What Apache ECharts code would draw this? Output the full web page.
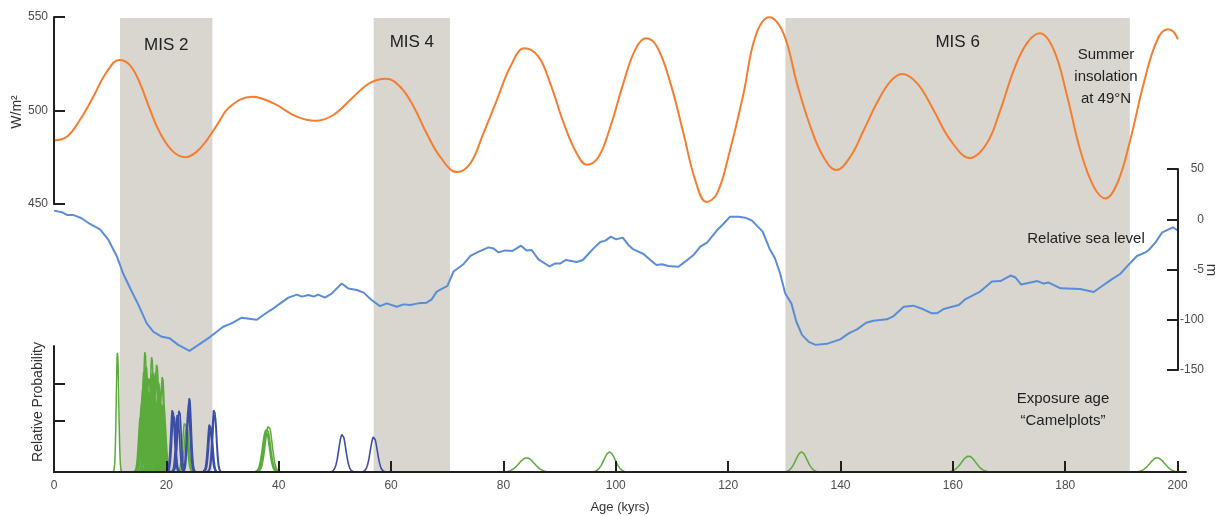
<!DOCTYPE html>
<html>
<head>
<meta charset="utf-8">
<script src="https://cdn.jsdelivr.net/npm/echarts@6/dist/echarts.min.js"></script>
<style>
html,body{margin:0;padding:0;background:#fff;}
#chart{width:1222px;height:516px;}
</style>
</head>
<body>
<div id="chart"></div>
<script>
// ---------- DATA ----------
const xTickValues = [0, 20, 40, 60, 80, 100, 120, 140, 160, 180, 200];
const insolTickValues = [450, 500, 550];
const seaTickValues = [50, 0, -50, -100, -150];
const seaTickLabels = ['50', '0', '-5', '-100', '-150'];
const probTickValues = [0.405, 0.70];

const misNames = ['MIS 2', 'MIS 4', 'MIS 6'];
const misStart = [11.75, 56.9, 130.2];
const misEnd = [28.2, 70.5, 191.5];

// Summer insolation at 49°N (W/m²)
const insolAge = [0, 2.3, 4.6, 7.0, 9.4, 11.6, 13.5, 15.3, 17.1, 18.9, 21.2, 23.4, 25.4, 27.2, 29.0, 31.3, 35.3, 39.0, 43.2, 46.5, 49.7, 53.3, 56.3, 59.1, 61.6, 64.0, 66.3, 68.7, 71.7, 74.1, 76.4, 78.8, 81.2, 83.7, 86.2, 88.3, 90.7, 93.0, 94.8, 96.9, 99.0, 101.3, 103.4, 105.3, 107.3, 109.7, 112.0, 114.1, 116.1, 118.0, 120.3, 122.7, 124.8, 127.3, 129.8, 132.2, 134.6, 136.9, 139.2, 141.7, 144.1, 146.4, 148.8, 150.9, 153.6, 156.5, 159.5, 163.0, 166.0, 168.4, 170.8, 173.1, 175.4, 177.9, 180.3, 182.6, 185.0, 187.1, 189.2, 191.5, 193.9, 196.3, 198.2, 199.2, 200];
const insolW = [484, 486, 494.9, 507.4, 520.7, 527, 524.3, 514.5, 500.3, 487.8, 478, 475, 478, 484.2, 492.2, 502, 507.4, 503.9, 496.7, 494.5, 497.6, 507.4, 514.9, 517, 512.7, 502, 487.8, 475.3, 467.1, 471.8, 487.8, 505.6, 523.4, 533.3, 528.8, 514.5, 493.2, 477.1, 471, 475.3, 491.3, 514.5, 532.4, 538.6, 534.1, 514.5, 487.8, 462.8, 451.1, 455.7, 478.9, 509.2, 539.5, 549.8, 541.3, 514.5, 491.3, 475.3, 468.2, 475.3, 489.6, 503.9, 515.4, 519.5, 514.5, 500.3, 484.2, 474.6, 482.5, 500.3, 521.7, 535.9, 541.3, 532.4, 507.4, 478.9, 459.3, 453, 461.1, 484.2, 514.5, 537.7, 543.4, 542.1, 538];

// Relative sea level (m)
const seaAge = [0, 1.4, 2.3, 3.4, 4.9, 6.4, 8.2, 9.7, 11.2, 12.3, 13.7, 15.0, 16.5, 17.7, 19.2, 20.6, 22.1, 24.1, 25.7, 27.8, 30.1, 31.6, 33.4, 36.1, 37.3, 38.7, 40.2, 41.7, 43.2, 44.1, 45.3, 46.2, 47.0, 48.2, 49.4, 51.2, 52.4, 53.9, 55.1, 56.5, 58.0, 59.2, 61.0, 62.2, 63.4, 64.8, 66.3, 67.2, 68.1, 70.0, 71.1, 72.9, 74.1, 75.5, 77.3, 78.2, 79.1, 80.3, 81.6, 83.1, 84.1, 85.0, 86.2, 88.2, 89.2, 90.1, 91.1, 93.0, 94.1, 96.0, 97.2, 98.1, 99.1, 100.0, 101.2, 102.2, 103.1, 104.9, 106.1, 107.2, 108.2, 109.3, 111.1, 112.3, 113.8, 115.0, 116.2, 118.0, 119.1, 120.3, 121.8, 123.0, 124.2, 126.1, 127.3, 128.3, 129.2, 130.1, 131.2, 132.1, 133.1, 134.3, 135.5, 137.5, 139.9, 141.4, 142.9, 144.5, 145.8, 148.2, 149.4, 151.2, 152.9, 154.7, 156.2, 157.1, 158.3, 161.0, 162.2, 164.8, 166.9, 168.4, 170.2, 171.1, 172.1, 175.0, 176.1, 177.0, 179.1, 182.6, 185.0, 186.7, 188.2, 189.7, 190.9, 192.7, 194.2, 194.8, 196.0, 197.2, 199.1, 200.0];
const seaLevel = [8.6, 7, 4.3, 4.3, 1, -4.7, -10, -20.6, -37, -54, -70.4, -85, -103.6, -112, -117, -118.5, -125, -131, -125, -117, -107, -103.6, -98, -100, -95, -90, -84, -78, -75, -77, -75.4, -77, -75, -78, -74, -64, -69, -70.4, -73, -80.4, -86.4, -83.7, -87, -84.7, -85.4, -83.7, -83, -79.7, -72, -66.4, -52, -44.5, -36.5, -32.5, -28, -29, -33, -31, -31.5, -26.3, -31, -30.6, -40, -47, -44, -44, -40.5, -42.5, -40.5, -29, -22.6, -21.3, -17.3, -20, -18.3, -25.6, -30, -34.6, -40.5, -45.5, -44.8, -46.5, -47.2, -42.2, -35.6, -27.3, -23.3, -10.7, -4.7, 2.6, 2.6, 1.6, -1.4, -12.3, -29, -39, -54, -73.7, -83.7, -102, -115, -122, -125, -124, -119.5, -113.5, -109.6, -103, -101, -99.6, -96.3, -87, -86, -89.6, -93.6, -93.6, -89.3, -85.4, -79.4, -72, -62, -61.5, -56, -58, -65, -61.5, -64, -63, -68.7, -69.4, -72.4, -65.7, -59.8, -54.5, -47.2, -36.6, -32.9, -30.6, -23, -13, -8, -11.4];

// Exposure ages ("camelplots"): age (kyr), 1-sigma (kyr), relative peak height
const greenAge = [11.3, 15.4, 15.6, 15.8, 16.0, 16.2, 16.4, 16.6, 16.9, 17.0, 17.2, 17.4, 17.6, 17.8, 18.1, 18.3, 18.6, 18.8, 19.0, 19.2, 19.3, 19.5, 19.6, 23.3, 23.6, 37.7, 37.9, 38.2, 84.1, 98.85, 133.0, 162.75, 196.3];
const greenSigma = [0.22, 0.35, 0.35, 0.35, 0.35, 0.3, 0.35, 0.35, 0.35, 0.35, 0.35, 0.3, 0.35, 0.35, 0.35, 0.35, 0.35, 0.35, 0.35, 0.35, 0.35, 0.35, 0.35, 0.4, 0.4, 0.6, 0.6, 0.6, 1.35, 1.0, 1.0, 1.25, 1.3];
const greenHeight = [0.955, 0.45, 0.55, 0.66, 0.80, 0.96, 0.85, 0.70, 0.75, 0.62, 0.68, 0.92, 0.80, 0.72, 0.80, 0.86, 0.72, 0.62, 0.55, 0.70, 0.76, 0.55, 0.45, 0.40, 0.36, 0.33, 0.35, 0.375, 0.113, 0.159, 0.159, 0.127, 0.113];
const blueAge = [21.1, 21.3, 22.0, 22.3, 23.9, 24.0, 24.1, 27.7, 27.9, 28.5, 28.6, 51.3, 56.9];
const blueSigma = [0.32, 0.32, 0.32, 0.32, 0.32, 0.32, 0.32, 0.35, 0.35, 0.35, 0.35, 0.62, 0.62];
const blueHeight = [0.51, 0.47, 0.47, 0.505, 0.50, 0.55, 0.59, 0.39, 0.37, 0.51, 0.47, 0.30, 0.28];

// ---------- BUILD ----------
function camelData(ages, sigmas, heights) {
  const out = [];
  for (let i = 0; i < ages.length; i++) {
    const mu = ages[i], s = sigmas[i], h = heights[i];
    const n = 50;
    for (let k = 0; k <= n; k++) {
      const x = mu - 3.5 * s + (7 * s) * k / n;
      const z = (x - mu) / s;
      out.push([x, h * Math.exp(-0.5 * z * z)]);
    }
    out.push(null);
  }
  return out;
}
const zipXY = (a, b) => a.map((v, i) => [v, b[i]]);

const AXIS_COLOR = '#231f20';
const LABEL_COLOR = '#4d4d4d';
const FONT = 'Liberation Sans, Arial, sans-serif';

const chart = echarts.init(document.getElementById('chart'), null, {renderer: 'canvas'});

const markAreaData = misNames.map((n, i) => [
  {name: n, xAxis: misStart[i], label: {distance: i === 0 ? 19 : 16}},
  {xAxis: misEnd[i]}
]);

const axisLineStyle = {show: true, onZero: false, lineStyle: {color: AXIS_COLOR, width: 2}};
const gridBase = {outerBoundsMode: 'none', containLabel: false};

const option = {
  animation: false,
  backgroundColor: '#ffffff',
  textStyle: {fontFamily: FONT},
  grid: [
    Object.assign({left: 54, top: 18, width: 1132, height: 454}, gridBase),   // background + age axis
    Object.assign({left: 54, top: 17, width: 1124, height: 187}, gridBase),   // insolation
    Object.assign({left: 54, top: 169, width: 1124, height: 201}, gridBase),  // sea level
    Object.assign({left: 54, top: 346, width: 1124, height: 126}, gridBase)   // probability
  ],
  xAxis: [
    {
      gridIndex: 0, type: 'value', min: 0, max: 201.5, z: 5,
      name: 'Age (kyrs)', nameLocation: 'middle', nameGap: 29,
      nameTextStyle: {fontSize: 13, color: '#333', fontFamily: FONT},
      axisLine: axisLineStyle,
      axisTick: {show: true, inside: true, length: 11, customValues: xTickValues.slice(1), lineStyle: {color: AXIS_COLOR, width: 2}},
      axisLabel: {show: true, customValues: xTickValues, fontSize: 12, color: LABEL_COLOR, margin: 8, fontFamily: FONT},
      splitLine: {show: false}
    },
    {gridIndex: 1, type: 'value', min: 0, max: 200, show: false},
    {gridIndex: 2, type: 'value', min: 0, max: 200, show: false},
    {gridIndex: 3, type: 'value', min: 0, max: 200, show: false}
  ],
  yAxis: [
    {gridIndex: 0, type: 'value', min: 0, max: 1, show: false},
    {
      gridIndex: 1, type: 'value', position: 'left', min: 450, max: 550, interval: 50, z: 5,
      axisLine: axisLineStyle,
      axisTick: {show: true, inside: true, length: 11, lineStyle: {color: AXIS_COLOR, width: 2}},
      axisLabel: {customValues: insolTickValues, fontSize: 12, color: LABEL_COLOR, margin: 6, fontFamily: FONT},
      splitLine: {show: false}
    },
    {
      gridIndex: 2, type: 'value', position: 'right', min: -150, max: 50, interval: 50, z: 5,
      axisLine: axisLineStyle,
      axisTick: {show: true, inside: true, length: 11, lineStyle: {color: AXIS_COLOR, width: 2}},
      axisLabel: {
        fontSize: 12, color: LABEL_COLOR, margin: 26, align: 'right', fontFamily: FONT,
        formatter: v => { const i = seaTickValues.indexOf(v); return i >= 0 ? seaTickLabels[i] : ''; }
      },
      splitLine: {show: false}
    },
    {
      gridIndex: 3, type: 'value', position: 'left', min: 0, max: 1, z: 5,
      axisLine: axisLineStyle,
      axisTick: {show: true, inside: true, length: 11, customValues: probTickValues, lineStyle: {color: AXIS_COLOR, width: 2}},
      axisLabel: {show: false},
      splitLine: {show: false}
    }
  ],
  series: [
    {
      type: 'line', xAxisIndex: 0, yAxisIndex: 0, data: [], silent: true, z: 1,
      markArea: {
        silent: true,
        itemStyle: {color: '#d9d6d0'},
        label: {show: true, position: 'insideTop', fontSize: 17, color: '#222', fontFamily: FONT},
        data: markAreaData
      }
    },
    {
      name: 'Summer insolation', type: 'line', xAxisIndex: 1, yAxisIndex: 1,
      data: zipXY(insolAge, insolW), smooth: 0.4, symbol: 'none',
      lineStyle: {color: '#f47d30', width: 2}
    },
    {
      name: 'Relative sea level', type: 'line', xAxisIndex: 2, yAxisIndex: 2,
      data: zipXY(seaAge, seaLevel), symbol: 'none',
      lineStyle: {color: '#5a8cd7', width: 2}
    },
    {
      name: 'Exposure ages (green)', type: 'line', xAxisIndex: 3, yAxisIndex: 3,
      data: camelData(greenAge, greenSigma, greenHeight), symbol: 'none', connectNulls: false,
      lineStyle: {color: '#5aaa3c', width: 1.5}
    },
    {
      name: 'Exposure ages (blue)', type: 'line', xAxisIndex: 3, yAxisIndex: 3,
      data: camelData(blueAge, blueSigma, blueHeight), symbol: 'none', connectNulls: false,
      lineStyle: {color: '#3d4ea6', width: 1.6}
    }
  ],
  graphic: {
    elements: [
      {type: 'text', z: 100, x: 1106, y: 55, style: {text: 'Summer', font: '15px ' + FONT, fill: '#222', align: 'center', verticalAlign: 'middle'}},
      {type: 'text', z: 100, x: 1106, y: 77, style: {text: 'insolation', font: '15px ' + FONT, fill: '#222', align: 'center', verticalAlign: 'middle'}},
      {type: 'text', z: 100, x: 1106, y: 99, style: {text: 'at 49°N', font: '15px ' + FONT, fill: '#222', align: 'center', verticalAlign: 'middle'}},
      {type: 'text', z: 100, x: 1086, y: 239, style: {text: 'Relative sea level', font: '15px ' + FONT, fill: '#222', align: 'center', verticalAlign: 'middle'}},
      {type: 'text', z: 100, x: 1063, y: 399, style: {text: 'Exposure age', font: '15px ' + FONT, fill: '#222', align: 'center', verticalAlign: 'middle'}},
      {type: 'text', z: 100, x: 1063, y: 421, style: {text: '“Camelplots”', font: '15px ' + FONT, fill: '#222', align: 'center', verticalAlign: 'middle'}},
      {type: 'text', z: 100, x: 38, y: 402, rotation: Math.PI / 2, style: {text: 'Relative Probability', font: '14px ' + FONT, fill: '#333', align: 'center', verticalAlign: 'middle'}},
      {type: 'text', z: 100, x: 17, y: 112, rotation: Math.PI / 2, style: {text: 'W/m²', font: '14px ' + FONT, fill: '#333', align: 'center', verticalAlign: 'middle'}},
      {type: 'text', z: 100, x: 1211, y: 270, rotation: -Math.PI / 2, style: {text: 'm', font: '15px ' + FONT, fill: '#333', align: 'center', verticalAlign: 'middle'}}
    ]
  }
};
chart.setOption(option);
</script>
</body>
</html>
